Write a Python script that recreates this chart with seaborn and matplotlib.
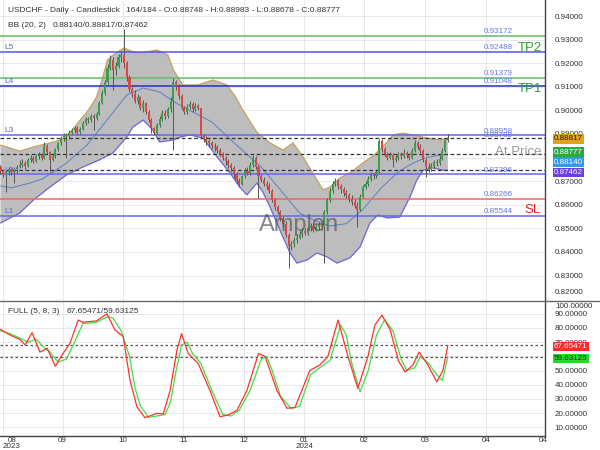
import numpy as np
import pandas as pd
import matplotlib
matplotlib.use("Agg")
import matplotlib.pyplot as plt
import seaborn as sns

# ---- candle data (USDCHF daily) ----
first_open = 0.8760
closes = [
    0.8745, 0.8728, 0.8740, 0.8752, 0.8738, 0.8750, 0.8762, 0.8770, 0.8778, 0.8765,   # 0-9
    0.8790, 0.8800, 0.8785, 0.8805, 0.8812, 0.8798, 0.8850, 0.8825, 0.8790, 0.8808,   # 10-19
    0.8835, 0.8860, 0.8880, 0.8895, 0.8890, 0.8905, 0.8915, 0.8925, 0.8910, 0.8922,   # 20-29
    0.8945, 0.8962, 0.8958, 0.8975, 0.8968, 0.8985, 0.9030, 0.9075, 0.9120, 0.9180,   # 30-39
    0.9215, 0.9170, 0.9190, 0.9225, 0.9235, 0.9200, 0.9140, 0.9090, 0.9070, 0.9040,   # 40-49
    0.9055, 0.9010, 0.9030, 0.8995, 0.8960, 0.8925, 0.8905, 0.8940, 0.8965, 0.8990,   # 50-59
    0.8975, 0.9005, 0.9040, 0.9120, 0.9100, 0.9060, 0.9010, 0.8995, 0.9015, 0.9025,   # 60-69
    0.9005, 0.9020, 0.9010, 0.8890, 0.8880, 0.8870, 0.8860, 0.8850, 0.8845, 0.8832,   # 70-79
    0.8815, 0.8800, 0.8785, 0.8770, 0.8755, 0.8730, 0.8700, 0.8690, 0.8720, 0.8745,   # 80-89
    0.8735, 0.8770, 0.8800, 0.8760, 0.8720, 0.8705, 0.8690, 0.8680, 0.8660, 0.8620,   # 90-99
    0.8590, 0.8570, 0.8540, 0.8520, 0.8470, 0.8425, 0.8435, 0.8450, 0.8460, 0.8475,   # 100-109
    0.8490, 0.8480, 0.8500, 0.8510, 0.8495, 0.8505, 0.8515, 0.8505, 0.8570, 0.8620,   # 110-119
    0.8660, 0.8690, 0.8700, 0.8680, 0.8665, 0.8650, 0.8640, 0.8625, 0.8610, 0.8595,   # 120-129
    0.8580, 0.8635, 0.8675, 0.8690, 0.8710, 0.8725, 0.8720, 0.8740, 0.8870, 0.8835,   # 130-139
    0.8815, 0.8800, 0.8810, 0.8790, 0.8800, 0.8815, 0.8805, 0.8820, 0.8810, 0.8800,   # 140-149
    0.8830, 0.8860, 0.8845, 0.8830, 0.8790, 0.8760, 0.8750, 0.8765, 0.8780, 0.8775,   # 150-159
    0.8795, 0.8830, 0.88748, 0.88777,                                                 # 160-163
]
highs = [
    0.8768, 0.8752, 0.8748, 0.8760, 0.8758, 0.8762, 0.8770, 0.8790, 0.8795, 0.8785,
    0.8800, 0.8812, 0.8808, 0.8815, 0.8825, 0.8820, 0.8866, 0.8858, 0.8830, 0.8818,
    0.8842, 0.8868, 0.8890, 0.8905, 0.8905, 0.8915, 0.8925, 0.8935, 0.8932, 0.8930,
    0.8955, 0.8970, 0.8972, 0.8985, 0.8985, 0.8995, 0.9040, 0.9085, 0.9130, 0.9195,
    0.9235, 0.9225, 0.9205, 0.9240, 0.9250, 0.9345, 0.9210, 0.9150, 0.9100, 0.9085,
    0.9068, 0.9060, 0.9042, 0.9035, 0.9000, 0.8968, 0.8930, 0.8948, 0.8975, 0.9002,
    0.9000, 0.9015, 0.9055, 0.9137, 0.9130, 0.9110, 0.9068, 0.9020, 0.9025, 0.9040,
    0.9035, 0.9030, 0.9028, 0.9012, 0.8900, 0.8890, 0.8878, 0.8870, 0.8862, 0.8855,
    0.8840, 0.8825, 0.8808, 0.8795, 0.8778, 0.8765, 0.8740, 0.8715, 0.8728, 0.8755,
    0.8760, 0.8780, 0.8810, 0.8805, 0.8770, 0.8730, 0.8718, 0.8700, 0.8692, 0.8668,
    0.8630, 0.8600, 0.8580, 0.8552, 0.8530, 0.8480, 0.8448, 0.8462, 0.8475, 0.8490,
    0.8502, 0.8500, 0.8512, 0.8522, 0.8518, 0.8515, 0.8525, 0.8522, 0.8580, 0.8630,
    0.8672, 0.8700, 0.8712, 0.8708, 0.8690, 0.8675, 0.8662, 0.8650, 0.8640, 0.8625,
    0.8610, 0.8645, 0.8685, 0.8702, 0.8722, 0.8738, 0.8735, 0.8750, 0.8880, 0.8878,
    0.8845, 0.8825, 0.8822, 0.8818, 0.8812, 0.8825, 0.8822, 0.8835, 0.8828, 0.8818,
    0.8840, 0.8875, 0.8870, 0.8858, 0.8838, 0.8798, 0.8775, 0.8775, 0.8790, 0.8792,
    0.8805, 0.8840, 0.8880, 0.88983,
]
lows = [
    0.8730, 0.8718, 0.8655, 0.8725, 0.8728, 0.8692, 0.8735, 0.8755, 0.8762, 0.8750,
    0.8760, 0.8782, 0.8775, 0.8780, 0.8795, 0.8788, 0.8795, 0.8815, 0.8740, 0.8785,
    0.8800, 0.8830, 0.8855, 0.8870, 0.8798, 0.8880, 0.8898, 0.8905, 0.8900, 0.8902,
    0.8918, 0.8940, 0.8945, 0.8950, 0.8918, 0.8960, 0.8980, 0.9025, 0.9065, 0.9110,
    0.9170, 0.9085, 0.9150, 0.9180, 0.9205, 0.9180, 0.9125, 0.9080, 0.9055, 0.9030,
    0.9025, 0.9000, 0.8995, 0.8985, 0.8950, 0.8905, 0.8896, 0.8900, 0.8930, 0.8955,
    0.8965, 0.8968, 0.8995, 0.8832, 0.9085, 0.9050, 0.9000, 0.8985, 0.8985, 0.9005,
    0.8995, 0.8998, 0.9000, 0.8880, 0.8865, 0.8855, 0.8845, 0.8838, 0.8830, 0.8820,
    0.8805, 0.8790, 0.8770, 0.8755, 0.8740, 0.8715, 0.8690, 0.8675, 0.8682, 0.8712,
    0.8725, 0.8728, 0.8762, 0.8750, 0.8629, 0.8695, 0.8680, 0.8665, 0.8650, 0.8612,
    0.8580, 0.8560, 0.8530, 0.8505, 0.8462, 0.8333, 0.8410, 0.8420, 0.8440, 0.8455,
    0.8465, 0.8470, 0.8472, 0.8490, 0.8485, 0.8488, 0.8495, 0.8495, 0.8353, 0.8560,
    0.8612, 0.8650, 0.8680, 0.8668, 0.8652, 0.8638, 0.8628, 0.8612, 0.8600, 0.8585,
    0.8506, 0.8572, 0.8628, 0.8665, 0.8680, 0.8700, 0.8708, 0.8712, 0.8735, 0.8825,
    0.8805, 0.8790, 0.8792, 0.8760, 0.8780, 0.8790, 0.8795, 0.8798, 0.8800, 0.8788,
    0.8795, 0.8825, 0.8835, 0.8820, 0.8780, 0.8716, 0.8740, 0.8742, 0.8755, 0.8765,
    0.8768, 0.8788, 0.8822, 0.88678,
]

# ---- Bollinger band (20, 2) read at sample bars ----
upper_bars = [0, 7, 12, 18, 22, 25, 29, 32, 35, 37, 39, 42, 45, 48, 51, 54, 57, 61, 63, 66.5,
              72, 77.4, 82.5, 85.5, 88.3, 93.4, 98.2, 102.9, 106.6, 110.2, 113.8, 117.5, 120,
              123.7, 128, 132, 136, 139.3, 143, 146.6, 150.3, 155.4, 160.1, 163]
upper_vals = [0.8853, 0.8828, 0.8845, 0.8862, 0.8875, 0.8900, 0.8959, 0.9000, 0.9057, 0.9130,
              0.9214, 0.9243, 0.9264, 0.9250, 0.9243, 0.9250, 0.9256, 0.9235, 0.9171, 0.9108,
              0.9108, 0.9129, 0.9108, 0.9060, 0.9002, 0.8908, 0.8862, 0.8832, 0.8862, 0.8803,
              0.8735, 0.8663, 0.8675, 0.8714, 0.8740, 0.8777, 0.8810, 0.8845, 0.8896, 0.8904,
              0.8896, 0.8883, 0.8875, 0.88817]
lower_bars = [0, 7, 12, 18, 24, 30, 36, 41, 46, 48.3, 52, 55.5, 58, 63, 65.4, 69, 73.8, 78.9,
              83.6, 87.2, 89.8, 93.4, 95.6, 98.2, 101.8, 105.5, 108, 111.7, 115.3, 119, 122.6,
              127.3, 131, 134.6, 137.5, 140.8, 145.5, 149.2, 151.7, 154, 157.6, 161.2, 163]
lower_vals = [0.8523, 0.8565, 0.8620, 0.8675, 0.8726, 0.8760, 0.8790, 0.8820, 0.8887, 0.8930,
              0.8959, 0.8917, 0.8866, 0.8875, 0.8887, 0.8896, 0.8883, 0.8803, 0.8735, 0.8675,
              0.8642, 0.8692, 0.8654, 0.8591, 0.8493, 0.8396, 0.8353, 0.8366, 0.8396, 0.8379,
              0.8353, 0.8375, 0.8421, 0.8523, 0.8557, 0.8544, 0.8548, 0.8633, 0.8705, 0.8747,
              0.8756, 0.8747, 0.87462]
mid_bars = [0, 4, 10, 15, 20, 24, 31.5, 38.8, 46, 52, 58, 64, 69, 77, 86, 95, 102, 109, 114,
            120, 126, 132, 139, 145, 150, 155, 159, 163]
mid_vals = [0.8680, 0.8672, 0.8690, 0.8708, 0.8745, 0.8777, 0.8853, 0.8959, 0.9065, 0.9095,
            0.9078, 0.9031, 0.9000, 0.8951, 0.8853, 0.8760, 0.8663, 0.8565, 0.8536, 0.8510,
            0.8520, 0.8580, 0.8675, 0.8740, 0.8775, 0.8800, 0.8808, 0.8814]

# ---- stochastic FULL (5, 8, 3) ----
k_bars = [0, 3.5, 7, 9, 11.5, 14.4, 17, 20, 22.4, 25.3, 28.3, 30, 35, 38.8, 41.7, 44.7, 47.2,
          49.7, 52.6, 57, 59.3, 61.8, 64.3, 66, 68.4, 72, 76.3, 80, 83, 86.2, 89.8, 94, 96.4,
          100.7, 104.4, 107.3, 112.7, 116.4, 119.3, 123, 126.6, 130.2, 133.9, 136.4, 139, 142,
          145, 147.4, 150.3, 152.5, 155.4, 159, 161.2, 163]
k_vals = [79, 75, 72, 68, 76.7, 63, 65.7, 53, 61, 69, 85.6, 84, 85, 90, 78.6, 74, 43,
          24.5, 16.8, 19.8, 19.4, 36, 64.5, 76, 62, 55, 36, 17.5, 18.7, 22, 36, 62, 60,
          36, 23.4, 24, 50, 54, 60, 85.6, 60, 37.5, 60, 82, 89, 78.6,
          57, 49, 54, 63, 55, 42, 50, 67.65471]
d_bars = [0, 3.5, 7, 10, 13, 16, 18, 21, 24, 27, 30, 35, 39, 41, 44, 47, 49, 51, 54, 57, 60,
          62, 64, 66, 68, 70, 73, 77, 81, 84, 87, 91, 95, 97, 99, 102, 106, 109, 113, 117, 120,
          124, 126, 128, 131, 134, 137, 140, 143, 146, 148, 151, 153, 156, 159, 161, 163]
d_vals = [78, 76, 73, 70, 72, 66, 63, 56, 58, 70, 83, 84, 88, 87, 78, 60, 38, 25, 17, 18, 19,
          28, 50, 68, 70, 62, 55, 36, 19, 18, 22, 36, 58, 60, 50, 32, 23, 25, 47, 53, 57,
          82, 75, 55, 35, 50, 75, 86, 78, 58, 50, 52, 60, 55, 47, 43, 59.63125]

# ---- horizontal levels ----
level_vals = [0.93172, 0.92488, 0.91379, 0.91048, 0.88958, 0.87296, 0.86266, 0.85544]
level_colors = ['#66bb66', '#5555ee', '#66bb66', '#2233bb', '#6666ee', '#6666ee', '#ee6666', '#6666ee']
bb_dashed = [0.88817, 0.88140, 0.87462]
l_names = ['L5', 'L4', 'L3', 'L2', 'L1']
l_levels = [0.92488, 0.91048, 0.88958, 0.87296, 0.85544]

month_ticks = [0.9, 22.66, 44.7, 66.6, 88.8, 110.7, 132.5, 154.6, 176.9]
month_labels = ['', '09', '10', '11', '12', '01\n2024', '02', '03', '04']

sns.set_theme(style="white")
plt.rcParams['font.family'] = ['Liberation Sans', 'DejaVu Sans']

W, H = 600, 450


def fx(px):
    return px / W


def fy(py):
    return 1 - py / H


fig = plt.figure(figsize=(6, 4.5), dpi=100)
ax = fig.add_axes([0, fy(300), fx(545), 300 / H])
ax2 = fig.add_axes([0, fy(436), fx(545), 135 / H])

xlim = (-0.18, 198.4)
grid_kw = dict(color='#e4e4e4', lw=0.6)

# ---- main panel ----
ax.set_xlim(*xlim)
ax.set_ylim(0.81966, 0.94678)
ax.set_yticks(np.arange(0.83, 0.9401, 0.01))
ax.yaxis.set_major_formatter(plt.FormatStrFormatter('%.5f'))
ax.yaxis.tick_right()
ax.set_xticks(month_ticks)
ax.set_xticklabels([])
ax.tick_params(axis='both', length=0, labelsize=5.8, colors='#333333', pad=7)
ax.grid(True, **grid_kw)
for s in ['top', 'left', 'bottom']:
    ax.spines[s].set_visible(False)
ax.spines['right'].set_color('#444444')
ax.spines['right'].set_linewidth(1)

# band fill as polygon through read points
poly_x = upper_bars + lower_bars[::-1]
poly_y = upper_vals + lower_vals[::-1]
ax.fill(poly_x, poly_y, color='#bdbdbd', zorder=1, lw=0)
sns.lineplot(x=upper_bars, y=upper_vals, ax=ax, color='#c9a15a', lw=0.9, zorder=2)
sns.lineplot(x=lower_bars, y=lower_vals, ax=ax, color='#6a66d6', lw=0.9, zorder=2)
sns.lineplot(x=mid_bars, y=mid_vals, ax=ax, color='#5b7fc4', lw=0.7, zorder=2)

for v, c in zip(level_vals, level_colors):
    ax.axhline(v, color=c, lw=1.1, zorder=2.5)
for v in bb_dashed:
    ax.axhline(v, color='#333333', lw=0.9, ls=(0, (3, 2)), zorder=2.5)

# candles
bars = np.arange(len(closes))
c = np.array(closes)
o = np.array([first_open] + closes[:-1])
hi = np.array(highs)
lo = np.array(lows)
up = c >= o
body_col = np.where(up, '#3d9e4a', '#d84848')
ax.vlines(bars, lo, hi, color='#555555', lw=0.7, zorder=3)
ax.bar(bars, np.maximum(np.abs(c - o), 0.00015), bottom=np.minimum(o, c), width=0.75,
       color=body_col, lw=0, zorder=4)

# level value labels
lab_x = 186.7
lab_kw = dict(ha='right', va='bottom', fontsize=5.8, color='#6677dd', zorder=5)
for v in level_vals:
    ax.text(lab_x, v + 0.0002, f"{v:.5f}", **lab_kw)
ax.text(lab_x, 0.88788 + 0.0002, "0.88788", **lab_kw)
for n, v in zip(l_names, l_levels):
    ax.text(1.5, v + 0.0003, n, ha='left', va='bottom', fontsize=6, color='#5566dd', zorder=5)

ax.text(192.9, 0.92665, 'TP2', ha='center', va='center', fontsize=9.5, color='#2a9d3a', zorder=5)
ax.text(192.9, 0.90886, 'TP1', ha='center', va='center', fontsize=9.5, color='#2a9d3a', zorder=5)
ax.text(194.0, 0.85780, 'SL', ha='center', va='center', fontsize=9.5, color='#dd2222', zorder=5)
ax.text(188.5, 0.88237, 'At Price', ha='center', va='center', fontsize=9.5, color='#999999', zorder=5)
ax.text(108.7, 0.85144, 'Amplen', ha='center', va='center', fontsize=17, color='#555555',
        alpha=0.7, zorder=6)

# ---- stochastic panel ----
ax2.set_xlim(*xlim)
ax2.set_ylim(3.88, 99.0)
ax2.set_yticks(np.arange(10, 91, 10))
ax2.yaxis.set_major_formatter(plt.FormatStrFormatter('%.5f'))
ax2.yaxis.tick_right()
ax2.set_xticks(month_ticks)
ax2.set_xticklabels(month_labels)
ax2.tick_params(axis='y', length=0, labelsize=5.8, colors='#333333', pad=7)
ax2.tick_params(axis='x', length=0, labelsize=5.8, colors='#333333', pad=1)
for lbl in ax2.get_xticklabels():
    lbl.set_linespacing(0.8)
ax2.grid(True, **grid_kw)
ax2.spines['top'].set_visible(False)
ax2.spines['left'].set_visible(False)
for s in ['right', 'bottom']:
    ax2.spines[s].set_color('#444444')
    ax2.spines[s].set_linewidth(1)
ax2.axhline(67.65471, color='#555555', lw=0.9, ls=(0, (2, 2)), zorder=1)
ax2.axhline(59.63125, color='#555555', lw=0.9, ls=(0, (2, 2)), zorder=1)
sns.lineplot(x=d_bars, y=d_vals, ax=ax2, color='#44dd44', lw=0.9, zorder=2)
sns.lineplot(x=k_bars, y=k_vals, ax=ax2, color='#ff3030', lw=0.9, zorder=3)

# first month label sits inside the left edge, last "04" has no grid line
fig.text(fx(12), fy(437), '08\n2023', fontsize=5.8, color='#333333', ha='center', va='top',
         linespacing=0.8)
fig.text(fx(543), fy(437), '04', fontsize=5.8, color='#333333', ha='center', va='top')

# separator across the figure
fig.add_artist(plt.Line2D([0, 1], [fy(300.5), fy(300.5)], color='#666666', lw=1))

# ---- header texts ----
hdr = dict(fontsize=6.0, color='#333333', va='center', ha='left')
fig.text(fx(8), fy(10), 'USDCHF - Daily - Candlestick', **hdr)
fig.text(fx(126), fy(10), '164/184 - O:0.88748 - H:0.88983 - L:0.88678 - C:0.88777', **hdr)
fig.text(fx(8), fy(25.5), 'BB (20, 2)', **hdr)
fig.text(fx(53), fy(25.5), '0.88140/0.88817/0.87462', **hdr)
fig.text(fx(8), fy(311.5), 'FULL (5, 8, 3)', **hdr)
fig.text(fx(67), fy(311.5), '67.65471/59.63125', **hdr)

fig.text(fx(555), fy(292), '0.82000', fontsize=5.8, color='#333333', va='center')
fig.text(fx(555), fy(307), '100.00000', fontsize=5.8, color='#333333', va='center')

# ---- price boxes on the right ----
boxes = [(139, '0.88817', '#e3a21a', '#222222'),
         (152, '0.88777', '#2aa84a', 'white'),
         (162, '0.88140', '#2f9bf0', 'white'),
         (172.5, '0.87462', '#6a3de8', 'white'),
         (346.5, '67.65471', '#ff2a2a', 'white'),
         (358.5, '59.63125', '#22dd22', '#222222')]
for py, txt, bg, fg in boxes:
    fig.text(fx(554), fy(py), txt, fontsize=5.8, color=fg, va='center', ha='left',
             bbox=dict(boxstyle='square,pad=0.18', fc=bg, ec='none'))

fig.savefig('out.png', dpi=100)
